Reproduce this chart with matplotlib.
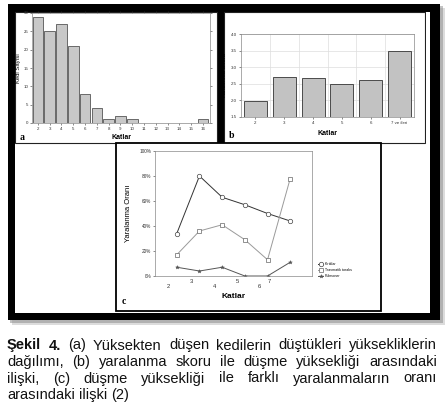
import matplotlib
matplotlib.use("Agg")
import matplotlib.pyplot as plt
from matplotlib.patches import Rectangle
from matplotlib.ticker import FuncFormatter

plt.rcParams['font.family'] = ['Liberation Sans', 'DejaVu Sans']

W, H = 448, 418

# (a) kedi sayısı / kat
katlar_a = [2, 3, 4, 5, 6, 7, 8, 9, 10, 11, 12, 13, 14, 15, 16]
kedi_sayisi = [29, 25, 27, 21, 8, 4, 1, 2, 1, 0, 0, 0, 0, 0, 1]

# (b) yaralanma skoru / kat
katlar_b = ["2", "3", "4", "5", "6", "7 ve ileri"]
yaralanma_skoru = [1.98, 2.70, 2.68, 2.50, 2.61, 3.48]

# (c) yaralanma oranı (%) / kat
katlar_c = ["2", "3", "4", "5", "6", "7"]
kiriklar = [34, 80, 63, 57, 50, 44]
travmatik_toraks = [17, 36, 41, 29, 13, 78]
pulmoner = [7, 4, 7, 0, 0, 11]


def rect(x0, y0, x1, y1):
    # piksel kutusu -> figür kesri
    return [x0 / W, 1 - y1 / H, (x1 - x0) / W, (y1 - y0) / H]


def box(x0, y0, x1, y1, **kw):
    r = Rectangle((x0 / W, 1 - y1 / H), (x1 - x0) / W, (y1 - y0) / H,
                  transform=fig.transFigure, zorder=-5, **kw)
    fig.patches.append(r)


def ftext(x, y, s, **kw):
    return fig.text(x / W, 1 - y / H, s, **kw)


fig = plt.figure(figsize=(W / 100, H / 100), dpi=100)
fig.patch.set_facecolor("white")

# çerçeve ve gölge
box(12, 8, 445, 325, facecolor="#bbbbbb", edgecolor="none", alpha=0.5)
box(10, 6, 443, 323, facecolor="#888888", edgecolor="none", alpha=0.5)
box(8, 4, 440, 320, facecolor="black", edgecolor="none")
box(15, 143, 430, 313, facecolor="white", edgecolor="none")
box(15, 12, 217, 143, facecolor="white", edgecolor="#222222", lw=0.8)
box(224, 12, 425, 143, facecolor="white", edgecolor="#222222", lw=0.8)
box(426, 12, 430, 143, facecolor="white", edgecolor="none")
box(116, 143, 381, 311, facecolor="white", edgecolor="black", lw=1.3)

tick_fs = 3.2
grid_c = "#dddddd"

# ---- (a)
ax = fig.add_axes(rect(32, 13, 210, 123))
ax.bar(katlar_a, kedi_sayisi, width=0.9, color="#c8c8c8", edgecolor="#555555", lw=0.6)
ax.set_xlim(1.5, 16.6)
ax.set_ylim(0, 30)
ax.set_xticks(katlar_a)
ax.set_yticks(range(0, 31, 5))
ax.tick_params(labelsize=tick_fs, length=1.2, width=0.4, pad=1.5, colors="#333333",
               top=True, right=True)
ax.set_xlabel("Katlar", fontsize=5, fontweight="bold", labelpad=2)
ax.set_ylabel("Kedi Sayısı", fontsize=4.2, labelpad=2)
for s in ax.spines.values():
    s.set_color("#888888")
    s.set_linewidth(0.5)
ax.set_axisbelow(True)
ftext(20, 137, "a", fontsize=7, fontweight="bold", family="Liberation Serif", va="center")

# ---- (b)
ax = fig.add_axes(rect(241, 34, 414, 117))
xb = range(len(katlar_b))
ax.bar(xb, yaralanma_skoru, width=0.8, bottom=0, color="#c2c2c2", edgecolor="#333333", lw=0.6)
ax.set_xlim(-0.5, 5.5)
ax.set_ylim(1.5, 4.0)
ax.set_xticks(list(xb), katlar_b)
ax.set_yticks([1.5, 2.0, 2.5, 3.0, 3.5, 4.0])
ax.yaxis.set_major_formatter(FuncFormatter(lambda v, p: f"{v:.1f}"))
ax.set_xticks([i + 0.5 for i in range(5)], minor=True)
ax.grid(True, which="minor", axis="x", color=grid_c, lw=0.5)
ax.grid(True, which="major", axis="y", color=grid_c, lw=0.5)
ax.set_axisbelow(True)
ax.tick_params(labelsize=tick_fs, length=1.2, width=0.4, pad=1.5, colors="#333333")
ax.tick_params(which="minor", length=0)
ax.set_xlabel("Katlar", fontsize=5, fontweight="bold", labelpad=4)
ax.set_ylabel("Yaralanma Skoru", fontsize=4.2, labelpad=3)
for s in ax.spines.values():
    s.set_color("#888888")
    s.set_linewidth(0.5)
ftext(229, 135, "b", fontsize=7, fontweight="bold", family="Liberation Serif", va="center")

# ---- (c)
ax = fig.add_axes(rect(155, 151, 312, 276))
xc = range(len(katlar_c))
ax.plot(xc, kiriklar, color="#333333", lw=0.7, marker="o", ms=3.2, mfc="white",
        mec="#444444", mew=0.5, label="Kırıklar")
ax.plot(xc, travmatik_toraks, color="#9a9a9a", lw=0.7, marker="s", ms=3.2, mfc="white",
        mec="#666666", mew=0.5, label="Travmatik toraks")
ax.plot(xc, pulmoner, color="#555555", lw=0.7, marker="*", ms=2.8, mfc="#555555",
        mec="#555555", mew=0.3, label="Pulmoner")
ax.set_xlim(-0.96, 5.96)
ax.set_ylim(0, 100)
ax.set_yticks(range(0, 101, 20))
ax.yaxis.set_major_formatter(FuncFormatter(lambda v, p: f"{v:.0f}%"))
ax.set_xticks([-0.37, 0.66, 1.66, 2.68, 3.63, 4.09], katlar_c)
for i, t in enumerate(ax.xaxis.get_major_ticks()):
    t.set_pad(6 if i % 2 == 0 else 2.5)
ax.tick_params(axis="x", labelsize=4.2, length=0, colors="#333333")
ax.tick_params(axis="y", labelsize=3.4, length=1.2, width=0.4, pad=1.5, colors="#333333")
ax.set_xlabel("Katlar", fontsize=6, fontweight="bold", labelpad=3)
ax.set_ylabel("Yaralanma Oranı", fontsize=5.5, labelpad=5)
for s in ax.spines.values():
    s.set_color("#888888")
    s.set_linewidth(0.5)
ax.legend(loc="upper left", bbox_to_anchor=(1.03, 0.12), frameon=False, fontsize=2.6,
          handlelength=1.4, labelspacing=0.5, handletextpad=0.4, borderaxespad=0)
ftext(122, 302, "c", fontsize=7, fontweight="bold", family="Liberation Serif", va="center")

# ---- altyazı (iki yana yaslı)
lines = [
    [("Şekil", True), ("4.", True), ("(a)", False), ("Yüksekten", False), ("düşen", False),
     ("kedilerin", False), ("düştükleri", False), ("yüksekliklerin", False)],
    [(w, False) for w in "dağılımı, (b) yaralanma skoru ile düşme yüksekliği arasındaki".split()],
    [(w, False) for w in "ilişki, (c) düşme yüksekliği ile farklı yaralanmaların oranı".split()],
    [(w, False) for w in "arasındaki ilişki (2)".split()],
]
cap_fs = 10.5
x_left, x_right = 7, 437
y_lines = [349.5, 366, 382.5, 399]
renderer = fig.canvas.get_renderer()
for li, (words, y) in enumerate(zip(lines, y_lines)):
    objs = [ftext(0, y, w, fontsize=cap_fs, fontweight="bold" if b else "normal",
                  va="baseline", ha="left", color="#111111") for w, b in words]
    widths = [o.get_window_extent(renderer).width for o in objs]
    if li < len(lines) - 1:
        gap = (x_right - x_left - sum(widths)) / (len(objs) - 1)
    else:
        sp = ftext(0, y, "a a", fontsize=cap_fs)
        sp2 = ftext(0, y, "aa", fontsize=cap_fs)
        gap = sp.get_window_extent(renderer).width - sp2.get_window_extent(renderer).width
        sp.remove()
        sp2.remove()
    x = x_left
    for o, wd in zip(objs, widths):
        o.set_x(x / W)
        x += wd + gap

fig.savefig("out.png", dpi=100)
